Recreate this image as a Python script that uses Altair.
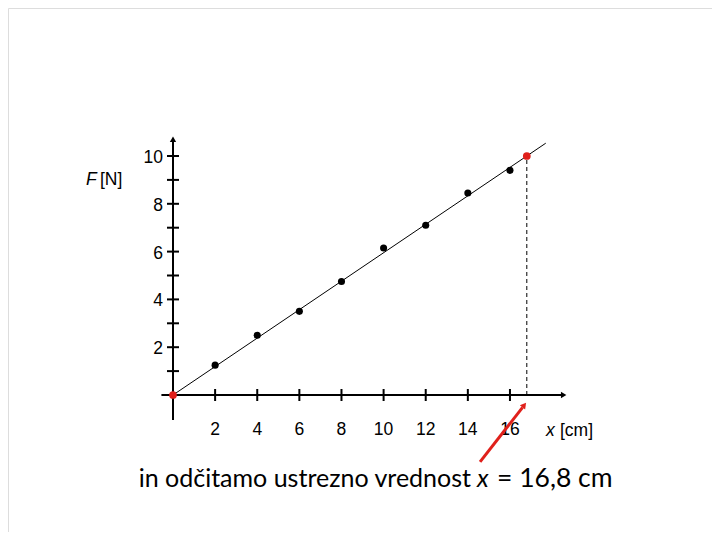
import altair as alt
import pandas as pd

# ---- data ----
x_meas = [2, 4, 6, 8, 10, 12, 14, 16]
f_meas = [1.25, 2.5, 3.5, 4.75, 6.15, 7.1, 8.45, 9.4]
red_x = [0, 16.8]
red_f = [0, 10]
x_tick_vals = [2, 4, 6, 8, 10, 12, 14, 16]
y_major_vals = [2, 4, 6, 8, 10]
y_minor_vals = [1, 3, 5, 7, 9]
read_x = 16.8
read_f = 10
fit_end_x = 17.7
caption_parts = ["in odčitamo ustrezno vrednost", "x", "= 16,8 cm"]

# ---- scale geometry (page px -> data) ----
W, H = 704, 524
PX_X = 21.06   # px per cm
PX_Y = 23.9    # px per N
ORX, ORY = 165, 387  # origin inside plot area
x_dom = [-ORX / PX_X, (W - ORX) / PX_X]
y_dom = [-(H - ORY) / PX_Y, ORY / PX_Y]
xs = alt.Scale(domain=x_dom, nice=False, zero=False)
ys = alt.Scale(domain=y_dom, nice=False, zero=False)

def X(f="x"):
    return alt.X(f, type="quantitative", scale=xs, axis=None)

def Y(f="y"):
    return alt.Y(f, type="quantitative", scale=ys, axis=None)

def px2x(p):
    return (p - 173) / PX_X

def px2y(p):
    return (395 - p) / PX_Y

# axes lines
axes_df = pd.DataFrame({
    "x": [-0.55, 0], "y": [0, -1.05], "x2": [18.5, 0], "y2": [0, 10.6]
})
axes = alt.Chart(axes_df).mark_rule(color="black", strokeWidth=2).encode(
    x=X(), y=Y(), x2="x2", y2="y2")

heads_df = pd.DataFrame({"x": [18.55, 0], "y": [0, 10.7], "a": [90, 0]})
heads = alt.Chart(heads_df).mark_point(
    shape="triangle-up", filled=True, color="black", size=40, opacity=1
).encode(x=X(), y=Y(), angle=alt.Angle("a:Q", scale=None))

# ticks
hx = 6 / PX_X
hy = 6 / PX_Y
yt = pd.DataFrame({"y": y_major_vals + y_minor_vals})
yt["x"] = -hx
yt["x2"] = hx
ytick = alt.Chart(yt).mark_rule(color="black", strokeWidth=2).encode(
    x=X(), x2="x2", y=Y())
xt = pd.DataFrame({"x": x_tick_vals})
xt["y"] = -hy
xt["y2"] = hy
xtick = alt.Chart(xt).mark_rule(color="black", strokeWidth=2).encode(
    x=X(), y=Y(), y2="y2")

LBL = 17.5
# tick labels
ylab_df = pd.DataFrame({"y": y_major_vals, "t": [str(v) for v in y_major_vals]})
ylab_df["x"] = 0
ylab = alt.Chart(ylab_df).mark_text(
    align="right", baseline="middle", dx=-10, dy=2, fontSize=LBL,
    font="Liberation Sans", color="black"
).encode(x=X(), y=Y(), text="t:N")
xlab_df = pd.DataFrame({"x": x_tick_vals, "t": [str(v) for v in x_tick_vals]})
xlab_df["y"] = 0
xlab = alt.Chart(xlab_df).mark_text(
    align="center", baseline="alphabetic", dy=40, fontSize=LBL,
    font="Liberation Sans", color="black"
).encode(x=X(), y=Y(), text="t:N")

def txt(xp, yp, t, style="normal", size=17.5, font="Liberation Sans", align="left"):
    df = pd.DataFrame({"x": [px2x(xp)], "y": [px2y(yp)], "t": [t]})
    return alt.Chart(df).mark_text(
        align=align, baseline="alphabetic", fontSize=size, fontStyle=style,
        font=font, color="black").encode(x=X(), y=Y(), text="t:N")

# axis titles
ftitle_i = txt(86, 185, "F", "italic")
ftitle_n = txt(100, 185, "[N]")
xtitle_i = txt(546, 436, "x", "italic")
xtitle_n = txt(560, 436, "[cm]")

# fit line
fit_df = pd.DataFrame({"x": [0, fit_end_x], "y": [0, fit_end_x * read_f / read_x]})
fit = alt.Chart(fit_df).mark_line(color="black", strokeWidth=1).encode(x=X(), y=Y())

# dashed reading line
dash_df = pd.DataFrame({"x": [read_x], "y": [0], "y2": [read_f]})
dash = alt.Chart(dash_df).mark_rule(color="black", strokeWidth=1, strokeDash=[4, 3]).encode(
    x=X(), y=Y(), y2="y2")

# points
pts = alt.Chart(pd.DataFrame({"x": x_meas, "y": f_meas})).mark_circle(
    color="black", size=50, opacity=1).encode(x=X(), y=Y())
rpts = alt.Chart(pd.DataFrame({"x": red_x, "y": red_f})).mark_circle(
    color="#e0201b", size=60, opacity=1).encode(x=X(), y=Y())

# red arrow
arr_df = pd.DataFrame({"x": [14.58], "y": [-2.8], "x2": [16.6], "y2": [-0.52]})
arrow = alt.Chart(arr_df).mark_rule(color="#e0201b", strokeWidth=3).encode(
    x=X(), y=Y(), x2="x2", y2="y2")
ah_df = pd.DataFrame({"x": [16.68], "y": [-0.42], "a": [38]})
arrowhead = alt.Chart(ah_df).mark_point(
    shape="triangle-up", filled=True, color="#e0201b", size=45, opacity=1
).encode(x=X(), y=Y(), angle=alt.Angle("a:Q", scale=None))

# caption
CAP = 25
cap1 = txt(471, 487, caption_parts[0], size=CAP, font="Lato", align="right")
cap2 = txt(477, 487, caption_parts[1], style="italic", size=CAP, font="Lato")
cap3 = txt(497, 487, caption_parts[2], size=CAP + 1.5, font="Lato")

chart = alt.layer(
    fit, dash, axes, heads, ytick, xtick, ylab, xlab,
    ftitle_i, ftitle_n, xtitle_i, xtitle_n, pts, rpts, cap1, cap2, cap3,
    arrow, arrowhead
).properties(
    width=W, height=H, padding=0, autosize=alt.AutoSizeParams(type="none")
).configure_view(strokeWidth=0).configure(background="white")

chart.save("out.html", embed_options={"renderer": "svg", "actions": False})
